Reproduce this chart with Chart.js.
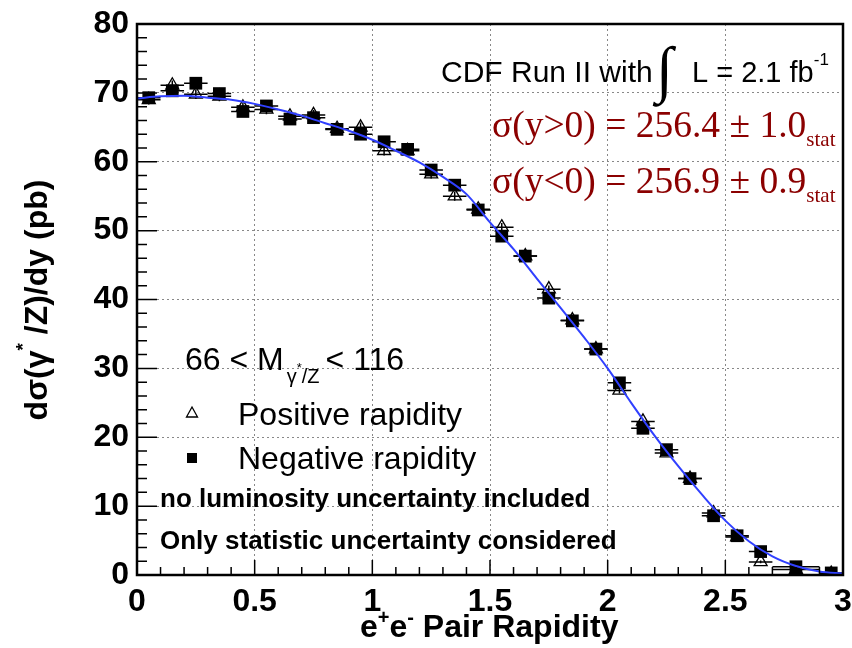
<!DOCTYPE html>
<html><head><meta charset="utf-8">
<script src="https://cdn.jsdelivr.net/npm/chart.js@4.4.1/dist/chart.umd.min.js"></script>
<style>html,body{margin:0;padding:0;background:#fff;overflow:hidden}#wrap{position:relative;width:852px;height:648px}canvas{display:block}</style>
</head><body><div id="wrap"><canvas id="c" width="852" height="648"></canvas></div>
<script>
// ---- data ----
const binCenters = [0.05,0.15,0.25,0.35,0.45,0.55,0.65,0.75,0.85,0.95,1.05,1.15,1.25,1.35,1.45,1.55,1.65,1.75,1.85,1.95,2.05,2.15,2.25,2.35,2.45,2.55,2.65,2.8,2.95];
const binHalfWidths = [0.05,0.05,0.05,0.05,0.05,0.05,0.05,0.05,0.05,0.05,0.05,0.05,0.05,0.05,0.05,0.05,0.05,0.05,0.05,0.05,0.05,0.05,0.05,0.05,0.05,0.05,0.05,0.1,0.05];
const positiveRapidity = [69.0,71.1,69.8,69.5,67.9,67.6,66.6,66.8,64.8,65.0,61.6,61.6,58.2,55.0,53.1,50.5,46.3,41.5,37.0,32.8,26.8,22.3,17.7,14.0,9.0,5.5,1.9,0.8,0.2];
const positiveErrors   = [0.7,0.7,0.7,0.7,0.7,0.7,0.7,0.7,0.7,0.7,0.7,0.7,0.65,0.65,0.6,0.6,0.6,0.55,0.5,0.5,0.45,0.4,0.4,0.35,0.3,0.25,0.2,0.3,0.1];
const negativeRapidity = [69.3,70.3,71.4,69.9,67.3,68.1,66.2,66.4,64.7,64.0,62.9,61.8,58.8,56.6,53.0,49.2,46.3,40.2,36.9,32.8,27.9,21.3,18.2,14.0,8.6,5.7,3.4,1.2,0.3];
const negativeErrors   = [0.7,0.7,0.7,0.7,0.7,0.7,0.7,0.7,0.7,0.7,0.7,0.7,0.65,0.65,0.6,0.6,0.6,0.55,0.5,0.5,0.45,0.4,0.4,0.35,0.3,0.25,0.2,0.15,0.1];
const theoryRapidity = [0.0,0.1,0.2,0.3,0.4,0.5,0.6,0.7,0.8,0.9,1.0,1.1,1.2,1.3,1.4,1.5,1.6,1.7,1.8,1.9,2.0,2.1,2.2,2.3,2.4,2.5,2.6,2.7,2.8,2.9,3.0];
const theoryValues   = [69.2,69.5,69.6,69.3,69.0,68.4,67.6,66.7,65.6,64.5,63.2,61.6,59.9,57.8,55.3,51.2,47.3,43.0,38.8,34.5,30.0,25.0,20.2,15.8,11.7,7.9,4.9,2.7,1.3,0.5,0.2];
const xTickLabels = ['0','0.5','1','1.5','2','2.5','3'];
const yTickLabels = ['0','10','20','30','40','50','60','70','80'];

const SANS = '"Liberation Sans", Arial, Helvetica, sans-serif';
const SERIF = '"Liberation Serif", "Times New Roman", serif';
const DARKRED = '#8b0000';

function pts(xs, ys){ return xs.map((x,i)=>({x:x, y:ys[i]})); }

// error bars (drawn beneath markers)
const errorBars = {
  id:'errorBars',
  beforeDatasetsDraw(chart){
    const {ctx, chartArea:a, scales:{x, y}} = chart;
    ctx.save();
    ctx.beginPath(); ctx.rect(a.left, a.top, a.width, a.height); ctx.clip();
    ctx.strokeStyle = '#000'; ctx.lineWidth = 1.5;
    [[positiveRapidity, positiveErrors],[negativeRapidity, negativeErrors]].forEach(([vals, errs])=>{
      binCenters.forEach((c,i)=>{
        const px = x.getPixelForValue(c), py = y.getPixelForValue(vals[i]);
        ctx.beginPath();
        ctx.moveTo(x.getPixelForValue(c-binHalfWidths[i]), py);
        ctx.lineTo(x.getPixelForValue(c+binHalfWidths[i]), py);
        ctx.moveTo(px, y.getPixelForValue(vals[i]-errs[i]));
        ctx.lineTo(px, y.getPixelForValue(vals[i]+errs[i]));
        ctx.stroke();
      });
    });
    ctx.restore();
  }
};

// inward tick marks + frame
const frameTicks = {
  id:'frameTicks',
  afterDatasetsDraw(chart){
    const {ctx, chartArea:a, scales:{x, y}} = chart;
    ctx.save();
    ctx.strokeStyle = '#000'; ctx.lineWidth = 1.5;
    ctx.beginPath();
    for(let k=0;k<=30;k++){
      const px = x.getPixelForValue(k/10);
      const len = (k%5===0) ? 15 : 8;
      ctx.moveTo(px, a.bottom); ctx.lineTo(px, a.bottom-len);
    }
    for(let k=0;k<=40;k++){
      const py = y.getPixelForValue(k*2);
      const len = (k%5===0) ? 20 : 10;
      ctx.moveTo(a.left, py); ctx.lineTo(a.left+len, py);
    }
    ctx.stroke();
    ctx.lineWidth = 2.5;
    ctx.strokeRect(a.left, a.top, a.width, a.height);
    ctx.restore();
  }
};

function runs(ctx, x, y, parts){
  // parts: [text, font, dy, color]
  let cx = x;
  parts.forEach(p=>{
    ctx.font = p[1]; ctx.fillStyle = p[3] || '#000';
    ctx.fillText(p[0], cx, y + (p[2]||0));
    cx += ctx.measureText(p[0]).width;
  });
  return cx;
}

const annotations = {
  id:'annotations',
  afterDraw(chart){
    const ctx = chart.ctx;
    ctx.save();
    ctx.textAlign = 'left'; ctx.textBaseline = 'alphabetic';
    // header
    runs(ctx, 441, 82, [['CDF Run II with', '30px '+SANS]]);
    runs(ctx, 656, 90, [['\u222B', '62px '+SERIF]]);
    runs(ctx, 692, 82, [['L = 2.1 fb', '29px '+SANS], ['-1', '17px '+SANS, -17]]);
    // cross sections
    runs(ctx, 492, 137, [['\u03C3(y>0) = 256.4 \u00B1 1.0', '37.5px '+SERIF, 0, DARKRED], ['stat', '21px '+SERIF, 9, DARKRED]]);
    runs(ctx, 492, 193, [['\u03C3(y<0) = 256.9 \u00B1 0.9', '37.5px '+SERIF, 0, DARKRED], ['stat', '21px '+SERIF, 9, DARKRED]]);
    // legend
    let cx = runs(ctx, 185, 370, [['66 < M', '32px '+SANS]]);
    cx = runs(ctx, cx+3, 370, [['\u03B3', '20px '+SANS, 13]]);
    cx = runs(ctx, cx, 370, [['*', '13px '+SANS, 2], ['/Z', '20px '+SANS, 13]]);
    runs(ctx, cx+6, 370, [['< 116', '32px '+SANS]]);
    // legend markers
    ctx.strokeStyle = '#000'; ctx.lineWidth = 1.3;
    ctx.beginPath(); ctx.moveTo(192, 407); ctx.lineTo(197.5, 417); ctx.lineTo(186.5, 417); ctx.closePath(); ctx.stroke();
    ctx.fillStyle = '#000'; ctx.fillRect(187, 453, 10, 10);
    runs(ctx, 238, 425, [['Positive rapidity', '32px '+SANS]]);
    runs(ctx, 238, 469, [['Negative rapidity', '32px '+SANS]]);
    runs(ctx, 160, 507, [['no luminosity uncertainty included', 'bold 26px '+SANS]]);
    runs(ctx, 160, 549, [['Only statistic uncertainty considered', 'bold 26px '+SANS]]);
    // x title
    runs(ctx, 360, 637, [['e','bold 32px '+SANS],['+','bold 20px '+SANS,-13],['e','bold 32px '+SANS],['-','bold 20px '+SANS,-13],[' Pair Rapidity','bold 32px '+SANS]]);
    // y title
    ctx.translate(47, 300); ctx.rotate(-Math.PI/2);
    const partsY = [['d\u03C3(\u03B3','bold 32px '+SANS],['*','bold 19px '+SANS,-18],[' /Z)/dy (pb)','bold 32px '+SANS]];
    let w = 0; partsY.forEach(p=>{ctx.font=p[1]; w+=ctx.measureText(p[0]).width;});
    runs(ctx, -w/2, 0, partsY);
    ctx.restore();
  }
};

const chart = new Chart(document.getElementById('c'), {
  type:'scatter',
  data:{ datasets:[
    { type:'line', label:'theory', data: pts(theoryRapidity, theoryValues), borderColor:'#3040ff', borderWidth:2,
      pointRadius:0, cubicInterpolationMode:'monotone', fill:false, order:0 },
    { label:'Negative rapidity', data: pts(binCenters, negativeRapidity), pointStyle:'rect', pointRadius:9,
      backgroundColor:'#000', borderColor:'#000', borderWidth:0, order:1 },
    { label:'Positive rapidity', data: pts(binCenters, positiveRapidity), pointStyle:'triangle', pointRadius:7.5,
      backgroundColor:'rgba(255,255,255,0)', borderColor:'#000', borderWidth:1.3, order:2 }
  ]},
  options:{
    responsive:false, animation:false, devicePixelRatio:1,
    layout:{ padding:{ top:24, right:9, left:0, bottom:0 } },
    plugins:{ legend:{display:false}, tooltip:{enabled:false}, title:{display:false} },
    scales:{
      x:{ type:'linear', min:0, max:3,
        afterFit(s){ s.height = 73; s.paddingLeft = 0; s.paddingRight = 0; },
        afterBuildTicks(s){ s.ticks = xTickLabels.map(t=>({value:parseFloat(t)})); },
        ticks:{ stepSize:0.5, padding:8, color:'#000', font:{family:SANS, size:32, weight:'bold'},
          callback:(v)=>{ const i = xTickLabels.findIndex(t=>Math.abs(parseFloat(t)-v)<1e-6); return i>=0 ? xTickLabels[i] : ''; } },
        grid:{ color:'#888', lineWidth:1, drawTicks:false },
        border:{ display:false, dash:[2,3] }
      },
      y:{ type:'linear', min:0, max:80,
        afterFit(s){ s.width = 137; s.paddingTop = 0; s.paddingBottom = 0; },
        afterBuildTicks(s){ s.ticks = yTickLabels.map(t=>({value:parseFloat(t)})); },
        ticks:{ stepSize:10, padding:8, color:'#000', font:{family:SANS, size:32, weight:'bold'},
          callback:(v)=>{ const i = yTickLabels.findIndex(t=>Math.abs(parseFloat(t)-v)<1e-6); return i>=0 ? yTickLabels[i] : ''; } },
        grid:{ color:'#888', lineWidth:1, drawTicks:false },
        border:{ display:false, dash:[2,3] }
      }
    }
  },
  plugins:[errorBars, frameTicks, annotations]
});
</script></body></html>
